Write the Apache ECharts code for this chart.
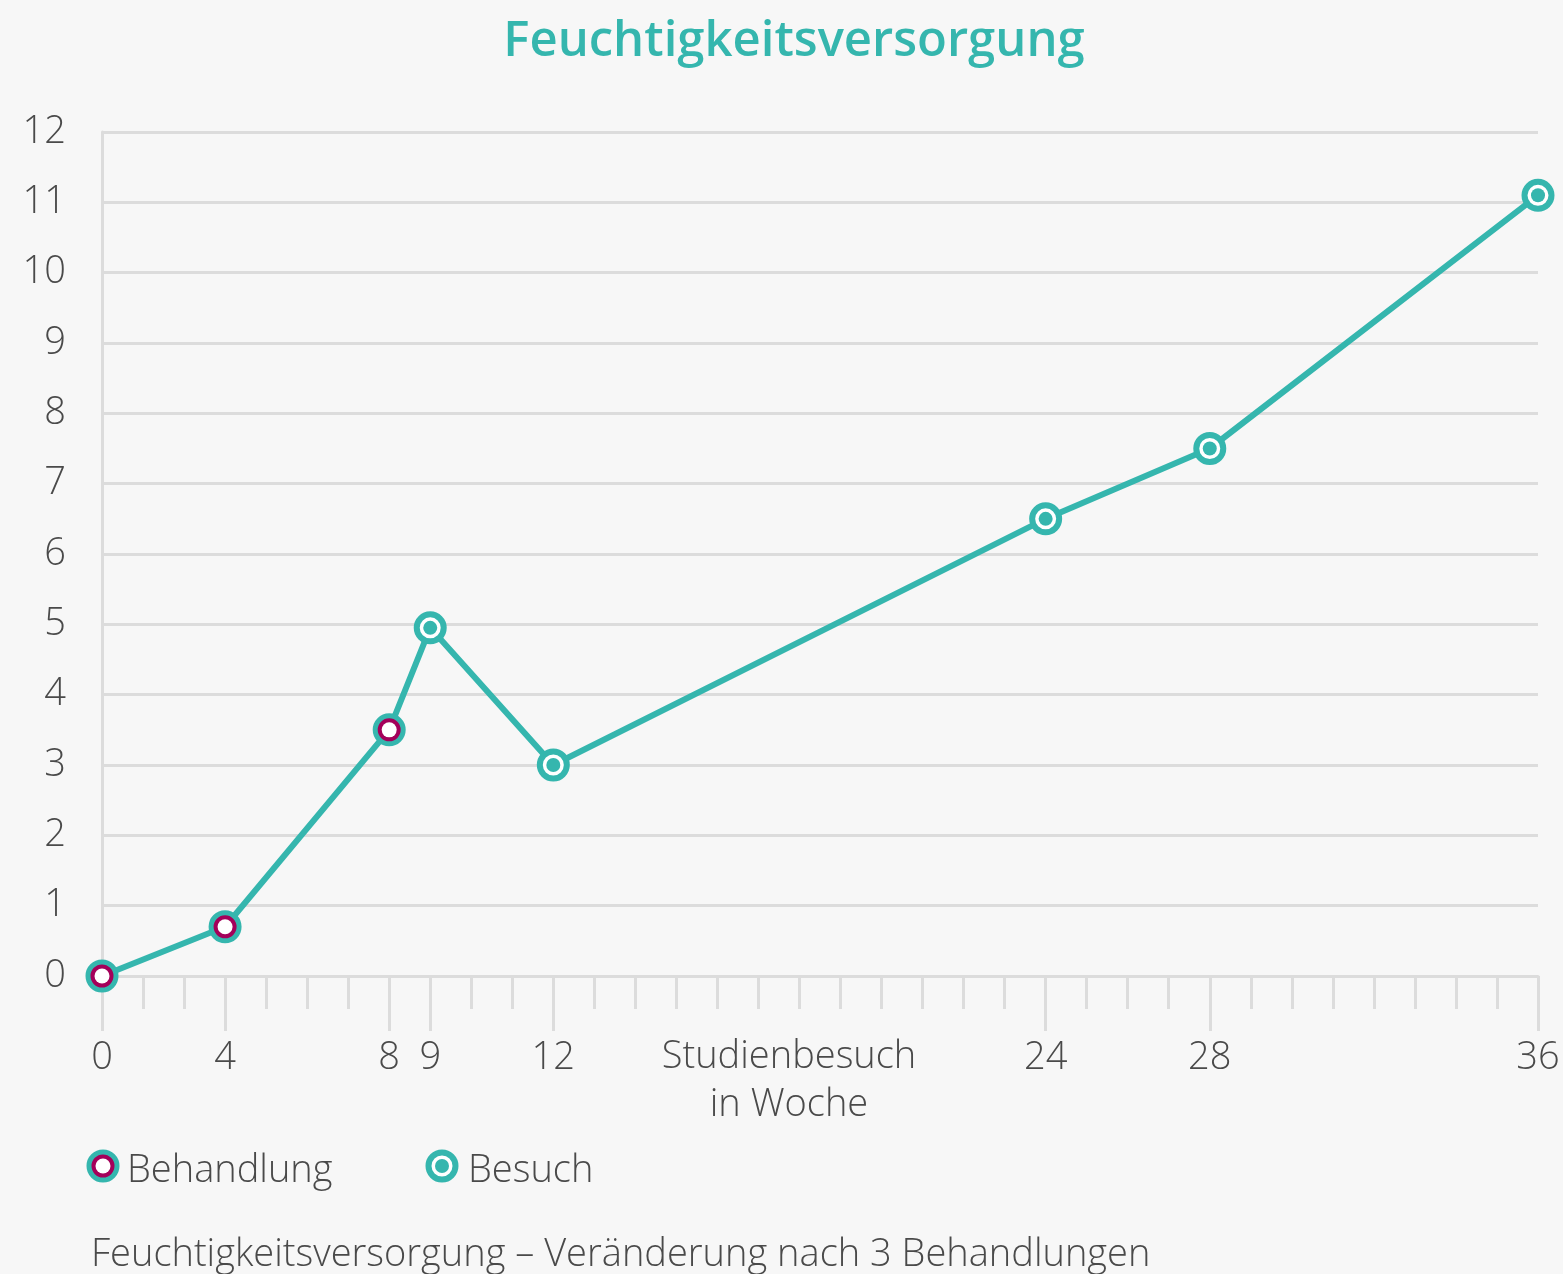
<!DOCTYPE html>
<html lang="de">
<head>
    <meta charset="UTF-8">
    <title>Feuchtigkeitsversorgung</title>
    <script src="https://cdn.jsdelivr.net/npm/echarts@6.0.0/dist/echarts.min.js"></script>
    <style>
        html, body {
            margin: 0;
            padding: 0;
            background-color: #f7f7f7;
        }

        #chart {
            width: 1563px;
            height: 1274px;
        }
    </style>
</head>
<body>
    <div id="chart"></div>
    <script>
        // Daten: Studienbesuche (Woche) und Feuchtigkeitswerte
        const weeks = ['0', '4', '8', '9', '12', '24', '28', '36'];
        const moisture = [0, 0.7, 3.5, 4.95, 3, 6.5, 7.5, 11.1];
        const treatmentWeeks = ['0', '4', '8'];
        // Tickpositionen der x-Achse (gleichmaessig), nur einige beschriftet
        const xTicks = [
            '0', '', '', '4', '', '', '', '8', '9', '', '', '12',
            '', '', '', '', '', '', '', '', '', '', '', '24',
            '', '', '', '28', '', '', '', '', '', '', '', '36'
        ];
        const yTicks = [0, 12, 1]; // min, max, Intervall

        const teal = '#35b6ae';
        const magenta = '#a4005a';
        const gridGray = '#dcdcdc';
        const textGray = '#4a4a4a';
        const font = 'Open Sans';
        const textFont = '300 38px "' + font + '"';

        const allPoints = weeks.map((w, i) => [w, moisture[i]]);
        const treatmentPoints = allPoints.filter(p => treatmentWeeks.includes(p[0]));
        const visitPoints = allPoints.filter(p => !treatmentWeeks.includes(p[0]));

        const chart = echarts.init(document.getElementById('chart'));
        chart.setOption({
            backgroundColor: '#f7f7f7',
            animation: false,
            title: {
                text: 'Feuchtigkeitsversorgung',
                left: 789,
                top: 13,
                textAlign: 'center',
                textStyle: {
                    color: teal,
                    fontFamily: font,
                    fontWeight: 600,
                    fontSize: 49
                }
            },
            grid: {
                left: 102,
                right: 25,
                top: 132,
                bottom: 298
            },
            xAxis: [
                {
                    type: 'category',
                    data: xTicks,
                    boundaryGap: false,
                    position: 'bottom',
                    axisLine: { show: true, lineStyle: { color: gridGray, width: 3 } },
                    axisTick: { show: true, interval: 0, length: 33, lineStyle: { color: gridGray, width: 3 } },
                    axisLabel: { show: false },
                    splitLine: { show: false }
                },
                {
                    type: 'category',
                    data: xTicks,
                    boundaryGap: false,
                    position: 'bottom',
                    axisLine: { show: false },
                    axisTick: {
                        show: true,
                        length: 55,
                        interval: (idx, val) => val !== '',
                        lineStyle: { color: gridGray, width: 3 }
                    },
                    axisLabel: {
                        show: true,
                        interval: 0,
                        margin: 63,
                        color: textGray,
                        fontFamily: font,
                        fontWeight: 300,
                        fontSize: 38,
                        verticalAlign: 'top'
                    },
                    splitLine: { show: false }
                }
            ],
            yAxis: {
                type: 'value',
                min: yTicks[0],
                max: yTicks[1],
                interval: yTicks[2],
                axisLine: { show: true, lineStyle: { color: gridGray, width: 3 } },
                axisTick: { show: false },
                axisLabel: {
                    margin: 36,
                    color: textGray,
                    fontFamily: font,
                    fontWeight: 300,
                    fontSize: 38
                },
                splitLine: { show: true, lineStyle: { color: gridGray, width: 3 } }
            },
            series: [
                {
                    name: 'Verlauf',
                    type: 'line',
                    data: allPoints,
                    showSymbol: false,
                    lineStyle: { color: teal, width: 6 },
                    z: 3
                },
                // Behandlung: tuerkiser Rand, magenta Ring, weisser Kern
                {
                    name: 'Behandlung',
                    type: 'scatter',
                    data: treatmentPoints,
                    symbolSize: 28,
                    itemStyle: { color: magenta, borderColor: teal, borderWidth: 5, opacity: 1 },
                    z: 4
                },
                {
                    type: 'scatter',
                    data: treatmentPoints,
                    symbolSize: 15,
                    itemStyle: { color: '#ffffff', opacity: 1 },
                    z: 5
                },
                // Besuch: tuerkiser Rand, weisser Ring, tuerkiser Kern
                {
                    name: 'Besuch',
                    type: 'scatter',
                    data: visitPoints,
                    symbolSize: 27,
                    itemStyle: { color: '#ffffff', borderColor: teal, borderWidth: 6, opacity: 1 },
                    z: 4
                },
                {
                    type: 'scatter',
                    data: visitPoints,
                    symbolSize: 14,
                    itemStyle: { color: teal, opacity: 1 },
                    z: 5
                }
            ],
            graphic: [
                // Achsentitel
                {
                    type: 'text', x: 789, y: 1033,
                    style: {
                        text: 'Studienbesuch\nin Woche',
                        align: 'center',
                        verticalAlign: 'top',
                        lineHeight: 48,
                        fill: textGray,
                        font: textFont
                    }
                },
                // Legende
                { type: 'circle', shape: { cx: 103, cy: 1166, r: 14 }, style: { fill: magenta, stroke: teal, lineWidth: 5 } },
                { type: 'circle', shape: { cx: 103, cy: 1166, r: 7.5 }, style: { fill: '#ffffff' } },
                {
                    type: 'text', left: 127, top: 1152,
                    style: { text: 'Behandlung', fill: textGray, font: textFont }
                },
                { type: 'circle', shape: { cx: 442, cy: 1166, r: 13.5 }, style: { fill: '#ffffff', stroke: teal, lineWidth: 6 } },
                { type: 'circle', shape: { cx: 442, cy: 1166, r: 7 }, style: { fill: teal } },
                {
                    type: 'text', left: 468, top: 1152,
                    style: { text: 'Besuch', fill: textGray, font: textFont }
                },
                // Bildunterschrift
                {
                    type: 'text', left: 91, top: 1236,
                    style: {
                        text: 'Feuchtigkeitsversorgung – Veränderung nach 3 Behandlungen',
                        fill: textGray,
                        font: textFont
                    }
                }
            ]
        });
    </script>
</body>
</html>
